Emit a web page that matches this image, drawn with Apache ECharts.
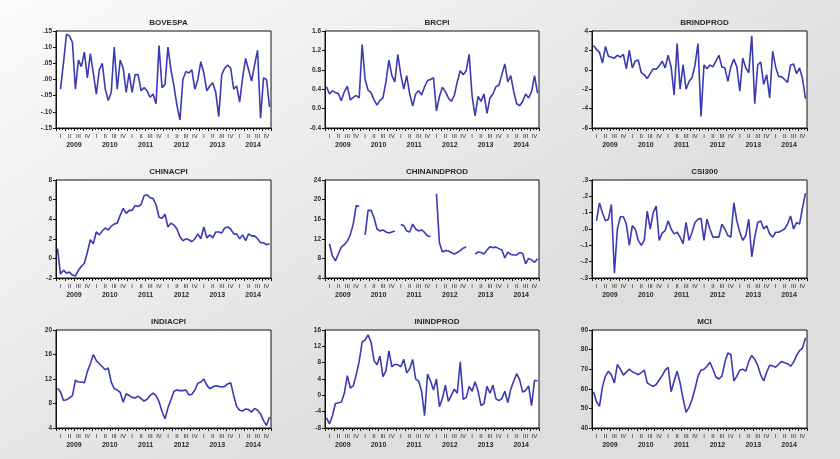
<!DOCTYPE html>
<html>
<head>
<meta charset="utf-8">
<script src="https://cdn.jsdelivr.net/npm/echarts@6/dist/echarts.min.js"></script>
<style>
  html, body { margin: 0; padding: 0; }
  #chart { width: 840px; height: 459px; }
</style>
</head>
<body>
<div id="chart"></div>
<script>
// Monthly observations, 2009M01 - 2014M12 (72 months each)
const years = [2009, 2010, 2011, 2012, 2013, 2014];
const quarterLabels = ['I', 'II', 'III', 'IV'];

const bovespa = [null, -0.03, 0.05, 0.14, 0.135, 0.115, -0.03, 0.06, 0.04, 0.085, 0.005, 0.08,
  0.02, -0.045, 0.03, 0.05, -0.03, -0.065, -0.04, 0.10, -0.03, 0.06, 0.035, -0.04,
  0.02, -0.04, 0.015, 0.015, -0.035, -0.025, -0.035, -0.055, -0.045, -0.075, 0.105, -0.025,
  -0.015, 0.10, 0.03, -0.02, -0.08, -0.125, 0.0, 0.025, 0.02, 0.03, -0.03, 0.0,
  0.055, 0.02, -0.035, -0.02, -0.01, -0.04, -0.115, 0.015, 0.035, 0.045, 0.035, -0.03,
  -0.02, -0.07, 0.005, 0.065, 0.03, -0.005, 0.045, 0.09, -0.12, 0.005, 0.0, -0.085];

const brcpi = [0.45, 0.30, 0.37, 0.33, 0.31, 0.16, 0.35, 0.46, 0.18, 0.23, 0.27, 0.22,
  1.32, 0.60, 0.38, 0.33, 0.18, 0.07, 0.17, 0.22, 0.55, 1.00, 0.68, 0.55,
  1.12, 0.70, 0.40, 0.68, 0.30, 0.05, 0.30, 0.37, 0.28, 0.45, 0.58, 0.60,
  0.64, -0.05, 0.25, 0.44, 0.35, 0.22, 0.15, 0.27, 0.55, 0.78, 0.70, 0.78,
  1.12, 0.25, -0.15, 0.25, 0.15, 0.30, -0.10, 0.22, 0.30, 0.45, 0.48, 0.70,
  0.92, 0.55, 0.68, 0.35, 0.10, 0.06, 0.15, 0.30, 0.22, 0.35, 0.68, 0.32];

const brindprod = [2.5, 2.1, 1.8, 0.7, 2.4, 1.4, 1.3, 1.2, 1.5, 1.3, 1.6, 0.1,
  2.0, 0.2, 0.9, 1.0, -0.3, -0.5, -0.9, -0.4, 0.1, 0.05, 0.4, 0.9,
  0.2, 1.5, 0.3, -2.6, 2.7, -2.0, 0.5, -2.0, -1.2, -0.8, 0.5, 2.7,
  -4.8, 0.5, 0.1, 0.5, 0.3, 0.9, 1.5, 0.3, 0.2, -1.2, 0.3, 1.1,
  0.3, -2.2, 1.2, 0.2, -0.3, 3.5, -3.5, 0.5, 0.8, -1.5, -0.5, -2.9,
  1.9, 0.3, -0.7, -0.7, -1.0, -1.3, 0.5, 0.6, -0.4, 0.2, -0.9, -3.0];

const chinacpi = [1.0, -1.6, -1.2, -1.5, -1.4, -1.7, -1.8, -1.2, -0.8, -0.5, 0.6, 1.9,
  1.5, 2.7, 2.4, 2.8, 3.1, 2.9, 3.3, 3.5, 3.6, 4.4, 5.1, 4.6,
  4.9, 4.9, 5.4, 5.3, 5.5, 6.4, 6.5, 6.2, 6.1, 5.5, 4.2, 4.1,
  4.5, 3.2, 3.6, 3.4, 3.0, 2.2, 1.8, 2.0, 1.9, 1.7, 2.0, 2.5,
  2.0, 3.2, 2.1, 2.4, 2.1, 2.7, 2.7, 2.6, 3.1, 3.2, 3.0, 2.5,
  2.5, 2.0, 2.4, 1.8, 2.5, 2.3, 2.3, 2.0, 1.6, 1.6, 1.4, 1.5];

const chinaindprod = [null, 11.0, 8.5, 7.5, 8.9, 10.3, 10.8, 11.5, 12.8, 15.0, 18.8, 18.6,
  null, 12.8, 17.8, 17.8, 16.3, 14.0, 13.6, 13.8, 13.4, 13.2, 13.4, 13.6,
  null, 14.9, 14.7, 13.6, 13.4, 15.0, 14.0, 13.6, 13.8, 13.3, 12.6, 12.4,
  null, 21.2, 11.2, 9.3, 9.6, 9.5, 9.2, 8.9, 9.2, 9.6, 10.1, 10.3,
  null, null, 8.9, 9.3, 9.2, 8.9, 9.7, 10.4, 10.2, 10.3, 10.0, 9.7,
  8.1, 9.3, 8.8, 8.7, 8.7, 9.2, 9.0, 6.9, 8.0, 7.7, 7.2, 7.9];

const csi300 = [null, 0.05, 0.16, 0.10, 0.05, 0.06, 0.15, -0.27, 0.0, 0.075, 0.075, 0.03,
  -0.10, 0.02, 0.0, -0.07, -0.10, -0.07, 0.11, 0.0, 0.10, 0.14, -0.07, -0.025,
  -0.01, 0.05, 0.0, -0.03, -0.02, -0.05, -0.09, 0.04, -0.07, -0.02, 0.04, 0.06,
  0.065, -0.07, 0.06, 0.0, -0.05, -0.05, -0.05, 0.03, 0.0, -0.04, -0.05, 0.16,
  0.05, -0.02, -0.07, -0.04, 0.06, -0.17, -0.05, 0.04, 0.05, 0.0, 0.02, -0.03,
  -0.05, -0.02, -0.02, -0.01, 0.0, 0.03, 0.08, 0.0, 0.04, 0.03, 0.13, 0.22];

const indiacpi = [10.5, 9.9, 8.5, 8.6, 8.9, 9.3, 11.8, 11.5, 11.5, 11.4, 13.2, 14.5,
  16.0, 15.0, 14.5, 14.0, 13.5, 13.8, 11.5, 10.4, 10.2, 9.8, 8.2, 9.6,
  9.3, 9.0, 8.9, 9.2, 8.8, 8.4, 8.7, 9.3, 9.7, 9.3, 8.3, 6.7,
  5.5, 7.3, 8.6, 10.0, 10.2, 10.1, 10.1, 10.2, 9.4, 9.5, 10.2, 11.3,
  11.5, 12.0, 11.0, 10.4, 10.7, 10.9, 10.8, 10.7, 10.8, 11.2, 11.4, 9.3,
  7.5, 6.9, 6.8, 7.1, 7.0, 6.6, 7.2, 6.9, 6.3, 5.2, 4.4, 5.8];

const inindprod = [-5.5, -7.0, -5.0, -2.0, -1.8, -1.7, 0.5, 4.8, 1.8, 2.3, 5.0, 8.3,
  13.1, 13.6, 14.8, 13.0, 8.5, 7.5, 9.6, 4.6, 6.0, 10.9, 7.0, 7.6,
  7.5, 7.0, 8.8, 5.5, 6.5, 8.8, 4.0, 3.5, 1.0, -5.0, 5.2, 3.5,
  1.3, 4.0, -2.8, -0.8, 2.5, -1.5, 0.0, 1.5, 0.5, 8.2, -1.0, -0.5,
  2.2, 1.0, 3.3, 1.0, -2.5, -2.0, 2.2, 0.5, 2.5, -0.8, -1.3, -0.8,
  1.0, -1.8, 1.5, 3.5, 5.3, 3.8, 0.8, 1.2, 2.3, -2.5, 3.7, 3.5];

const mci = [58.5, 53.5, 51.0, 61.0, 66.5, 69.0, 67.0, 63.0, 72.5, 70.0, 67.0, 68.5,
  70.0, 68.7, 68.0, 67.2, 68.3, 69.5, 63.0, 62.0, 61.2, 62.2, 64.5, 66.7,
  69.5, 71.0, 58.5, 64.0, 69.0, 63.0, 55.0, 48.0, 50.5, 54.5, 60.0, 66.5,
  69.5, 70.0, 71.5, 73.5, 70.0, 66.0, 65.0, 66.5, 73.5, 78.3, 77.5, 64.0,
  66.5, 69.5, 70.0, 69.0, 74.0, 77.0, 75.0, 72.0, 67.0, 64.0, 68.5, 72.0,
  71.7, 71.0, 72.5, 74.0, 73.3, 72.8, 71.5, 73.5, 77.0, 79.5, 80.8, 86.0];

// Label styles for the y axes
const fmtDec = (digits) => (v) => {
  const s = Math.abs(v).toFixed(digits).replace(/^0/, '');
  return (v < -1e-9 ? '-' : '') + s;
};
const fmtFixed = (digits) => (v) => v.toFixed(digits);

const panels = [
  { name: 'BOVESPA', data: bovespa, min: -0.15, max: 0.15, step: 0.05, fmt: fmtDec(2) },
  { name: 'BRCPI', data: brcpi, min: -0.4, max: 1.6, step: 0.4, fmt: fmtFixed(1) },
  { name: 'BRINDPROD', data: brindprod, min: -6, max: 4, step: 2, fmt: fmtFixed(0) },
  { name: 'CHINACPI', data: chinacpi, min: -2, max: 8, step: 2, fmt: fmtFixed(0) },
  { name: 'CHINAINDPROD', data: chinaindprod, min: 4, max: 24, step: 4, fmt: fmtFixed(0) },
  { name: 'CSI300', data: csi300, min: -0.3, max: 0.3, step: 0.1, fmt: fmtDec(1) },
  { name: 'INDIACPI', data: indiacpi, min: 4, max: 20, step: 4, fmt: fmtFixed(0) },
  { name: 'ININDPROD', data: inindprod, min: -8, max: 16, step: 4, fmt: fmtFixed(0) },
  { name: 'MCI', data: mci, min: 40, max: 90, step: 10, fmt: fmtFixed(0) }
];

const colLeft = [56, 325, 592];
const colWidth = [215, 214, 215];
const rowTop = [31, 180, 330];
const rowHeight = [97, 98, 98];

const nMonths = years.length * 12;
const quarterCenters = [];
for (let q = 0; q < years.length * 4; q++) quarterCenters.push(q * 3 + 1.5);
const yearCenters = years.map((y, k) => k * 12 + 6);

const textColor = '#2a2a2a';
const font = 'Liberation Sans, Arial, sans-serif';

const option = {
  animation: false,
  backgroundColor: {
    type: 'linear', x: 0, y: 0, x2: 0.35, y2: 1,
    colorStops: [
      { offset: 0, color: '#fbfbfb' },
      { offset: 0.5, color: '#ededed' },
      { offset: 1, color: '#dedede' }
    ]
  },
  title: [], grid: [], xAxis: [], yAxis: [], series: []
};

panels.forEach((p, k) => {
  const r = Math.floor(k / 3), c = k % 3;
  const left = colLeft[c], top = rowTop[r], w = colWidth[c], h = rowHeight[r];
  option.title.push({
    text: p.name,
    left: left + w / 2, top: top - 17, textAlign: 'center',
    textStyle: { fontSize: 8, fontWeight: 'bold', color: textColor, fontFamily: font }
  });
  option.grid.push({
    left: left, top: top, width: w, height: h,
    show: true, backgroundColor: '#ffffff', borderColor: '#111', borderWidth: 1
  });
  // quarter ticks and labels
  option.xAxis.push({
    type: 'value', gridIndex: k, min: 0, max: nMonths, interval: 3, position: 'bottom',
    axisLine: { onZero: false, lineStyle: { color: '#111', width: 1 } },
    axisTick: { length: 3, lineStyle: { color: '#111' } },
    minorTick: { show: true, splitNumber: 3, length: 2, lineStyle: { color: '#111' } },
    splitLine: { show: false },
    axisLabel: {
      customValues: quarterCenters, margin: 5,
      fontSize: 6, color: textColor, fontFamily: font,
      formatter: (v) => quarterLabels[Math.round((v - 1.5) / 3) % 4]
    }
  });
  // year labels
  option.xAxis.push({
    type: 'value', gridIndex: k, min: 0, max: nMonths, position: 'bottom', offset: 10,
    axisLine: { show: false, onZero: false }, axisTick: { show: false }, splitLine: { show: false },
    axisLabel: {
      customValues: yearCenters, margin: 4,
      fontSize: 7, fontWeight: 'bold', color: textColor, fontFamily: font,
      formatter: (v) => String(years[Math.round((v - 6) / 12)])
    }
  });
  option.yAxis.push({
    type: 'value', gridIndex: k, min: p.min, max: p.max, interval: p.step,
    axisLine: { show: true, onZero: false, lineStyle: { color: '#111', width: 1 } },
    axisTick: { show: true, length: 3, lineStyle: { color: '#111' } },
    splitLine: { show: false },
    axisLabel: {
      margin: 4, fontSize: 6.5, fontWeight: 'bold', color: textColor, fontFamily: font,
      formatter: p.fmt
    }
  });
  option.series.push({
    type: 'line', xAxisIndex: 2 * k, yAxisIndex: k,
    data: p.data.map((v, i) => [i + 0.5, v]),
    showSymbol: false, connectNulls: false,
    lineStyle: { color: '#3a3ab4', width: 1.6 },
    silent: true
  });
});

const chart = echarts.init(document.getElementById('chart'), null, { renderer: 'canvas' });
chart.setOption(option);
</script>
</body>
</html>
